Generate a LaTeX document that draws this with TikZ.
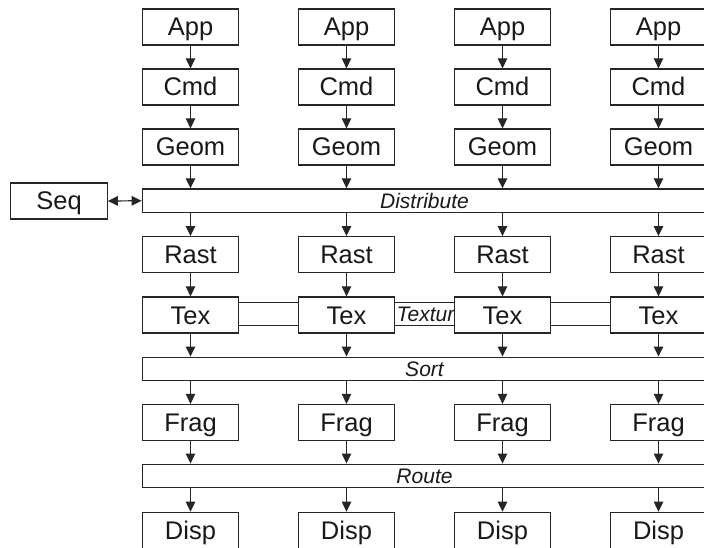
\documentclass[tikz,border=0pt]{standalone}
\usepackage{fontspec}
\setmainfont{Liberation Sans}
\usetikzlibrary{arrows.meta}
\begin{document}
\begin{tikzpicture}[x=1pt,y=-1pt,
  stage/.style={draw=black!85, line width=1.3pt, fill=white, minimum width=96.5pt, minimum height=36pt,
    inner sep=0pt, text height=18pt, text depth=0pt, text=black!90, font=\fontsize{25.5}{30}\selectfont},
  bar/.style={draw=black!85, line width=1.3pt, fill=white, minimum width=564.5pt, minimum height=23.6pt,
    inner sep=0pt, text height=15pt, text depth=0pt, text=black!90, font=\fontsize{21}{25}\selectfont\itshape},
  barlabel/.style={inner sep=0pt, text height=15pt, text depth=0pt, text=black!90, font=\fontsize{21}{25}\selectfont\itshape},
  flow/.style={draw=black!85, -{Triangle[length=10pt,width=9.5pt]}, line width=1.2pt},
  both/.style={draw=black!85, {Triangle[length=10pt,width=9.5pt]}-{Triangle[length=10pt,width=9.5pt]}, line width=1.2pt}]
\useasboundingbox (0,0) rectangle (704,548);
\clip (0,0) rectangle (704,548);
\fill[white] (0,0) rectangle (704,548);

% bars
\node[bar] (dist) at (424.5,200.75) {Distribute};
\node[bar] (texbar) at (424.5,314) {};
\node[barlabel, anchor=west] (texlbl) at (396.5,314) {Texture};
\node[bar] (sort) at (424.5,369) {Sort};
\node[bar] (route) at (424.5,476) {Route};

% sequencer
\node[stage] (seq) at (59,201) {Seq};
\draw[both] (seq.east) -- (dist.west);

\foreach \i/\x in {1/190.5,2/346.5,3/502.5,4/658.5}{
  \node[stage] (app\i)  at (\x,27)    {App};
  \node[stage] (cmd\i)  at (\x,87)    {Cmd};
  \node[stage] (geom\i) at (\x,147)   {Geom};
  \node[stage] (rast\i) at (\x,254.7) {Rast};
  \node[stage] (tex\i)  at (\x,315)   {Tex};
  \node[stage] (frag\i) at (\x,422.5) {Frag};
  \node[stage] (disp\i) at (\x,530.3) {Disp};
  \draw[flow] (app\i) -- (cmd\i);
  \draw[flow] (cmd\i) -- (geom\i);
  \draw[flow] (geom\i) -- (geom\i |- dist.north);
  \draw[flow] (rast\i.north |- dist.south) -- (rast\i);
  \draw[flow] (rast\i) -- (tex\i);
  \draw[flow] (tex\i) -- (tex\i |- sort.north);
  \draw[flow] (frag\i.north |- sort.south) -- (frag\i);
  \draw[flow] (frag\i) -- (frag\i |- route.north);
  \draw[flow] (disp\i.north |- route.south) -- (disp\i);
}
\end{tikzpicture}
\end{document}
